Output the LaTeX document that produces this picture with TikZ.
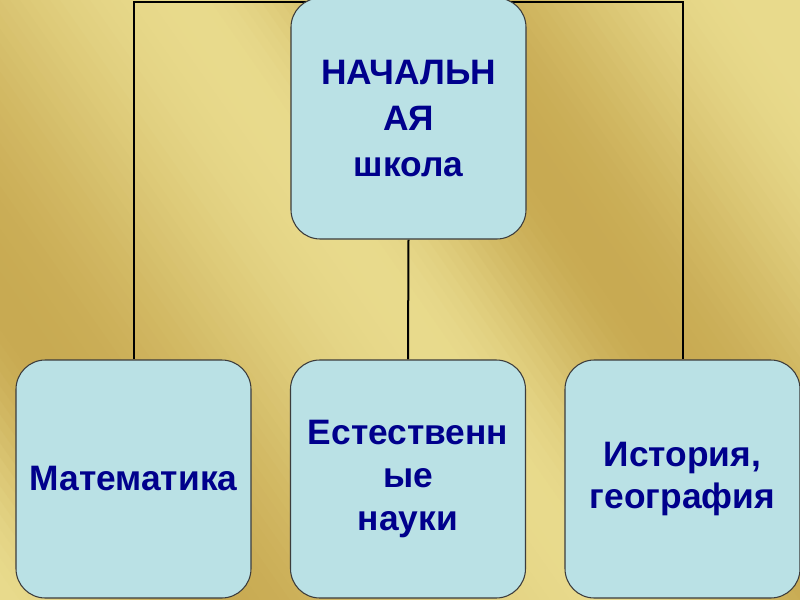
\documentclass[tikz,border=0pt]{standalone}
\usepackage{fontspec}
\setmainfont{Liberation Sans}
\definecolor{bgL}{RGB}{232,218,140}
\definecolor{bgD}{RGB}{200,170,82}
\definecolor{boxfill}{RGB}{186,225,229}
\definecolor{boxline}{RGB}{60,60,60}
\definecolor{txt}{RGB}{0,0,140}
\pgfdeclarelayer{back}
\pgfdeclarelayer{mid}
\pgfsetlayers{back,mid,main}
\begin{document}
\begin{tikzpicture}[x=0.75pt,y=-0.75pt,
  box/.style={draw=boxline, line width=0.8pt, fill=boxfill, rounded corners=22pt,
    minimum width=176.25pt, minimum height=178.5pt, inner sep=0pt, align=center,
    text=txt, font=\fontsize{26.5}{32}\selectfont\bfseries},
  conn/.style={draw=black, line width=1.5pt}]
\useasboundingbox (0,0) rectangle (800,600);
\begin{pgfonlayer}{back}
\clip (0,0) rectangle (800,600);
\foreach \i in {0,...,123} {
  \pgfmathsetmacro\tv{-420+10*\i}
  \pgfmathsetmacro\p{max(0,min(100,(\tv < -220) ? (50+50*cos((\tv+420)/200*180)) : ((\tv < 185) ? (50-50*cos((\tv+220)/405*180)) : ((\tv < 410) ? (50+50*cos((\tv-185)/225*180)) : ((\tv < 745) ? (50-50*cos((\tv-410)/335*180)) : 100)))))}
  \fill[bgL!\p!bgD] (\tv-7,-10) -- (\tv+427,610) -- (\tv+438,610) -- (\tv+4,-10) -- cycle;
}
\end{pgfonlayer}
\node[box, minimum height=180.75pt, font=\fontsize{26.5}{34.5}\selectfont\bfseries] (top) at (408.5,118.5) {НАЧАЛЬН\\АЯ\\школа};
\node[box] (math) at (133.5,479) {Математика};
\node[box] (nat) at (408,479) {Естественн\\ые\\науки};
\node[box] (hist) at (682.5,479) {История,\\география};
\coordinate (topline) at (408,2);
\begin{pgfonlayer}{mid}
\draw[conn] (math.north) |- (topline) -| (hist.north);
\draw[conn] (top.south) -- (nat.north);
\end{pgfonlayer}
\end{tikzpicture}
\end{document}
